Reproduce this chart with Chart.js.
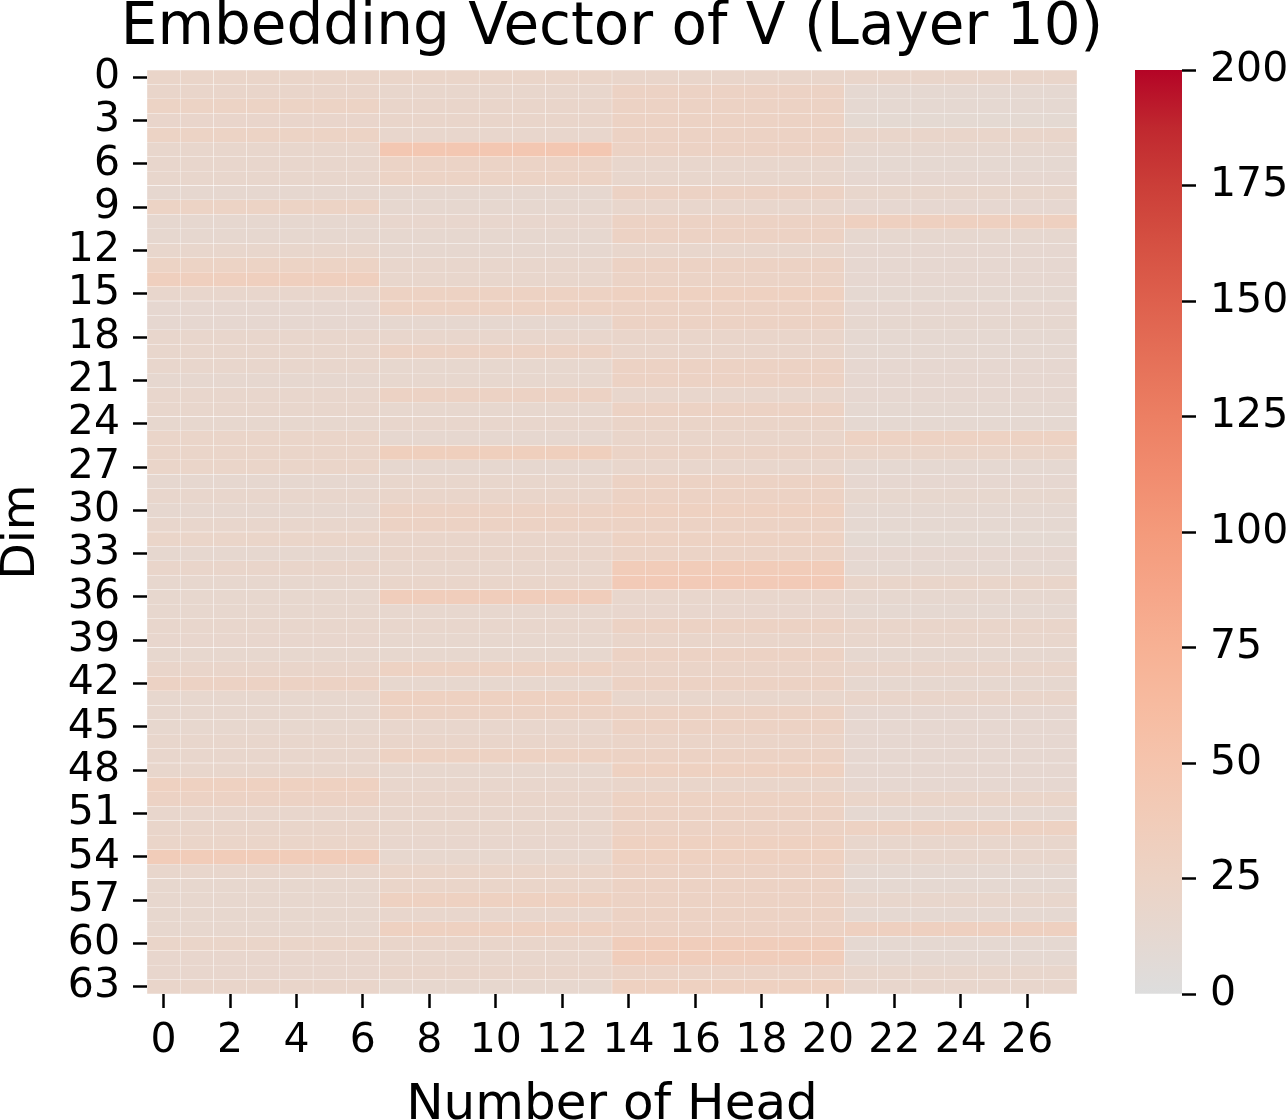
<!DOCTYPE html>
<html>
<head>
<meta charset="utf-8">
<script src="https://cdn.jsdelivr.net/npm/chart.js@4.4.0/dist/chart.umd.min.js"></script>
<style>
  body { margin: 0; background: #fff; }
  #wrap { position: relative; width: 1288px; height: 1120px; overflow: hidden; }
  #main { position: absolute; left: 0; top: 0; }
  #cbar { position: absolute; left: 1100px; top: 0; }
</style>
</head>
<body>
<div id="wrap">
  <canvas id="main" width="1224" height="1120"></canvas>
  <canvas id="cbar" width="188" height="1120"></canvas>
</div>
<script>
// heads 0..27, 7 query heads share one value head
const headLabels = ['0','1','2','3','4','5','6','7','8','9','10','11','12','13',
  '14','15','16','17','18','19','20','21','22','23','24','25','26','27'];
const headsPerGroup = 7;
const xTicks = [0, 2, 4, 6, 8, 10, 12, 14, 16, 18, 20, 22, 24, 26];
const dimTicks = [0, 3, 6, 9, 12, 15, 18, 21, 24, 27, 30, 33, 36, 39, 42, 45, 48, 51, 54, 57, 60, 63];
const cbarTicks = [0, 25, 50, 75, 100, 125, 150, 175, 200];
const vmax = 200;

// value per dim (row 0..63) for each group of heads
const group0 = [21,20,25,19,25,18,18,18,15,25,15,15,18,25,32,18,14,14,18,18,18,15,18,18,16,21,21,21,15,18,15,18,
                21,15,20,16,16,16,18,17,16,20,26,16,16,16,18,18,18,29,26,18,20,21,38,18,16,16,16,16,21,17,17,20];
const group1 = [21,18,20,20,18,45,24,25,15,15,17,15,15,18,18,27,27,15,18,26,16,16,26,16,18,15,33,15,18,20,26,26,
                20,20,18,20,35,16,18,16,16,27,16,29,26,18,20,27,16,18,20,18,18,17,16,21,21,29,18,29,20,18,20,16];
const group2 = [20,26,26,26,26,26,18,18,26,18,26,26,18,26,24,29,26,26,20,20,26,26,18,26,22,20,24,18,26,26,29,26,
                27,24,38,40,18,17,26,20,26,22,26,18,26,26,22,26,29,20,27,26,26,29,29,26,26,26,26,26,35,35,24,29];
const group3 = [20,13,13,11,20,15,13,14,18,14,30,15,14,14,14,12,14,15,13,13,14,14,14,13,13,27,21,13,14,16,13,13,
                11,14,12,20,15,12,20,18,15,20,15,20,14,14,14,14,14,14,21,13,27,18,18,13,13,18,13,30,12,12,18,18];
const groups = [group0, group1, group2, group3];

// upper half of coolwarm (center 0 -> vmax)
const cmapStops = [
  [221,221,221],[229,216,209],[236,211,197],[241,204,185],[245,196,173],[247,187,160],
  [247,177,148],[246,165,136],[244,154,123],[241,140,111],[236,127,99],[229,112,88],
  [222,96,77],[213,80,66],[203,62,56],[192,40,47],[180,4,38]
];

function valueColor(v) {
  const n = cmapStops.length - 1;
  const t = Math.max(0, Math.min(1, v / vmax)) * n;
  const i = Math.min(Math.floor(t), n - 1);
  const f = t - i;
  const a = cmapStops[i], b = cmapStops[i + 1];
  const c = a.map((x, k) => Math.round(x + (b[k] - x) * f));
  return `rgb(${c[0]},${c[1]},${c[2]})`;
}

Chart.defaults.font.family = "'DejaVu Sans', sans-serif";
Chart.defaults.color = '#000';

const tickGrid = {
  display: true,
  drawOnChartArea: false,
  offset: false,
  tickLength: 14,
  tickWidth: 2.5,
  tickColor: '#000'
};

const datasets = group0.map((_, d) => ({
  data: headLabels.map(() => [d, d + 1]),
  backgroundColor: headLabels.map((_, h) => valueColor(groups[Math.floor(h / headsPerGroup)][d])),
  borderColor: 'rgba(255,255,255,0.09)',
  borderWidth: 0.5,
  borderSkipped: false,
  barPercentage: 1,
  categoryPercentage: 1,
  grouped: false
}));

new Chart(document.getElementById('main'), {
  type: 'bar',
  data: { labels: headLabels, datasets },
  options: {
    responsive: false,
    animation: false,
    layout: { padding: 0 },
    plugins: {
      legend: { display: false },
      tooltip: { enabled: false },
      title: {
        display: true,
        text: 'Embedding Vector of V (Layer 10)',
        color: '#000',
        font: { size: 58, weight: 'normal', lineHeight: 1 },
        padding: { top: 0, bottom: 12 }
      }
    },
    scales: {
      x: {
        type: 'category',
        grid: tickGrid,
        border: { display: false },
        afterBuildTicks: s => { s.ticks = xTicks.map(v => ({ value: v })); },
        afterFit: s => { s.height = 126; },
        ticks: { autoSkip: false, maxRotation: 0, font: { size: 41 }, color: '#000', padding: 9 },
        title: { display: true, text: 'Number of Head', color: '#000', font: { size: 50, lineHeight: 0.56 }, padding: 0 }
      },
      y: {
        type: 'linear',
        min: 0,
        max: 64,
        reverse: true,
        grid: tickGrid,
        border: { display: false },
        afterBuildTicks: s => { s.ticks = dimTicks.map(v => ({ value: v + 0.5 })); },
        afterFit: s => { s.width = 147; },
        ticks: { autoSkip: false, font: { size: 41 }, color: '#000', padding: 13, callback: v => String(v - 0.5) },
        title: { display: true, text: 'Dim', color: '#000', font: { size: 47, lineHeight: 0.94 }, padding: 0 }
      },
      // empty right axis so the title centres over the heatmap
      yPad: {
        type: 'linear',
        position: 'right',
        display: true,
        grid: { display: false },
        border: { display: false },
        ticks: { display: false },
        afterFit: s => { s.width = 147; }
      }
    }
  }
});

new Chart(document.getElementById('cbar'), {
  type: 'bar',
  data: {
    labels: [''],
    datasets: [{
      data: [[0, vmax]],
      borderWidth: 0,
      barPercentage: 1,
      categoryPercentage: 1,
      backgroundColor: ctx => {
        const area = ctx.chart.chartArea;
        if (!area) return valueColor(0);
        const g = ctx.chart.ctx.createLinearGradient(0, area.bottom, 0, area.top);
        cmapStops.forEach((c, k) => g.addColorStop(k / (cmapStops.length - 1), `rgb(${c[0]},${c[1]},${c[2]})`));
        return g;
      }
    }]
  },
  options: {
    responsive: false,
    animation: false,
    layout: { padding: { left: 35, top: 70, bottom: 126, right: 0 } },
    plugins: { legend: { display: false }, tooltip: { enabled: false } },
    scales: {
      x: { display: false },
      y: {
        position: 'right',
        min: 0,
        max: vmax,
        grid: tickGrid,
        border: { display: false },
        afterBuildTicks: s => { s.ticks = cbarTicks.map(v => ({ value: v })); },
        afterFit: s => { s.width = 106; },
        ticks: { autoSkip: false, font: { size: 41 }, color: '#000', padding: 14 }
      }
    }
  }
});
</script>
</body>
</html>
